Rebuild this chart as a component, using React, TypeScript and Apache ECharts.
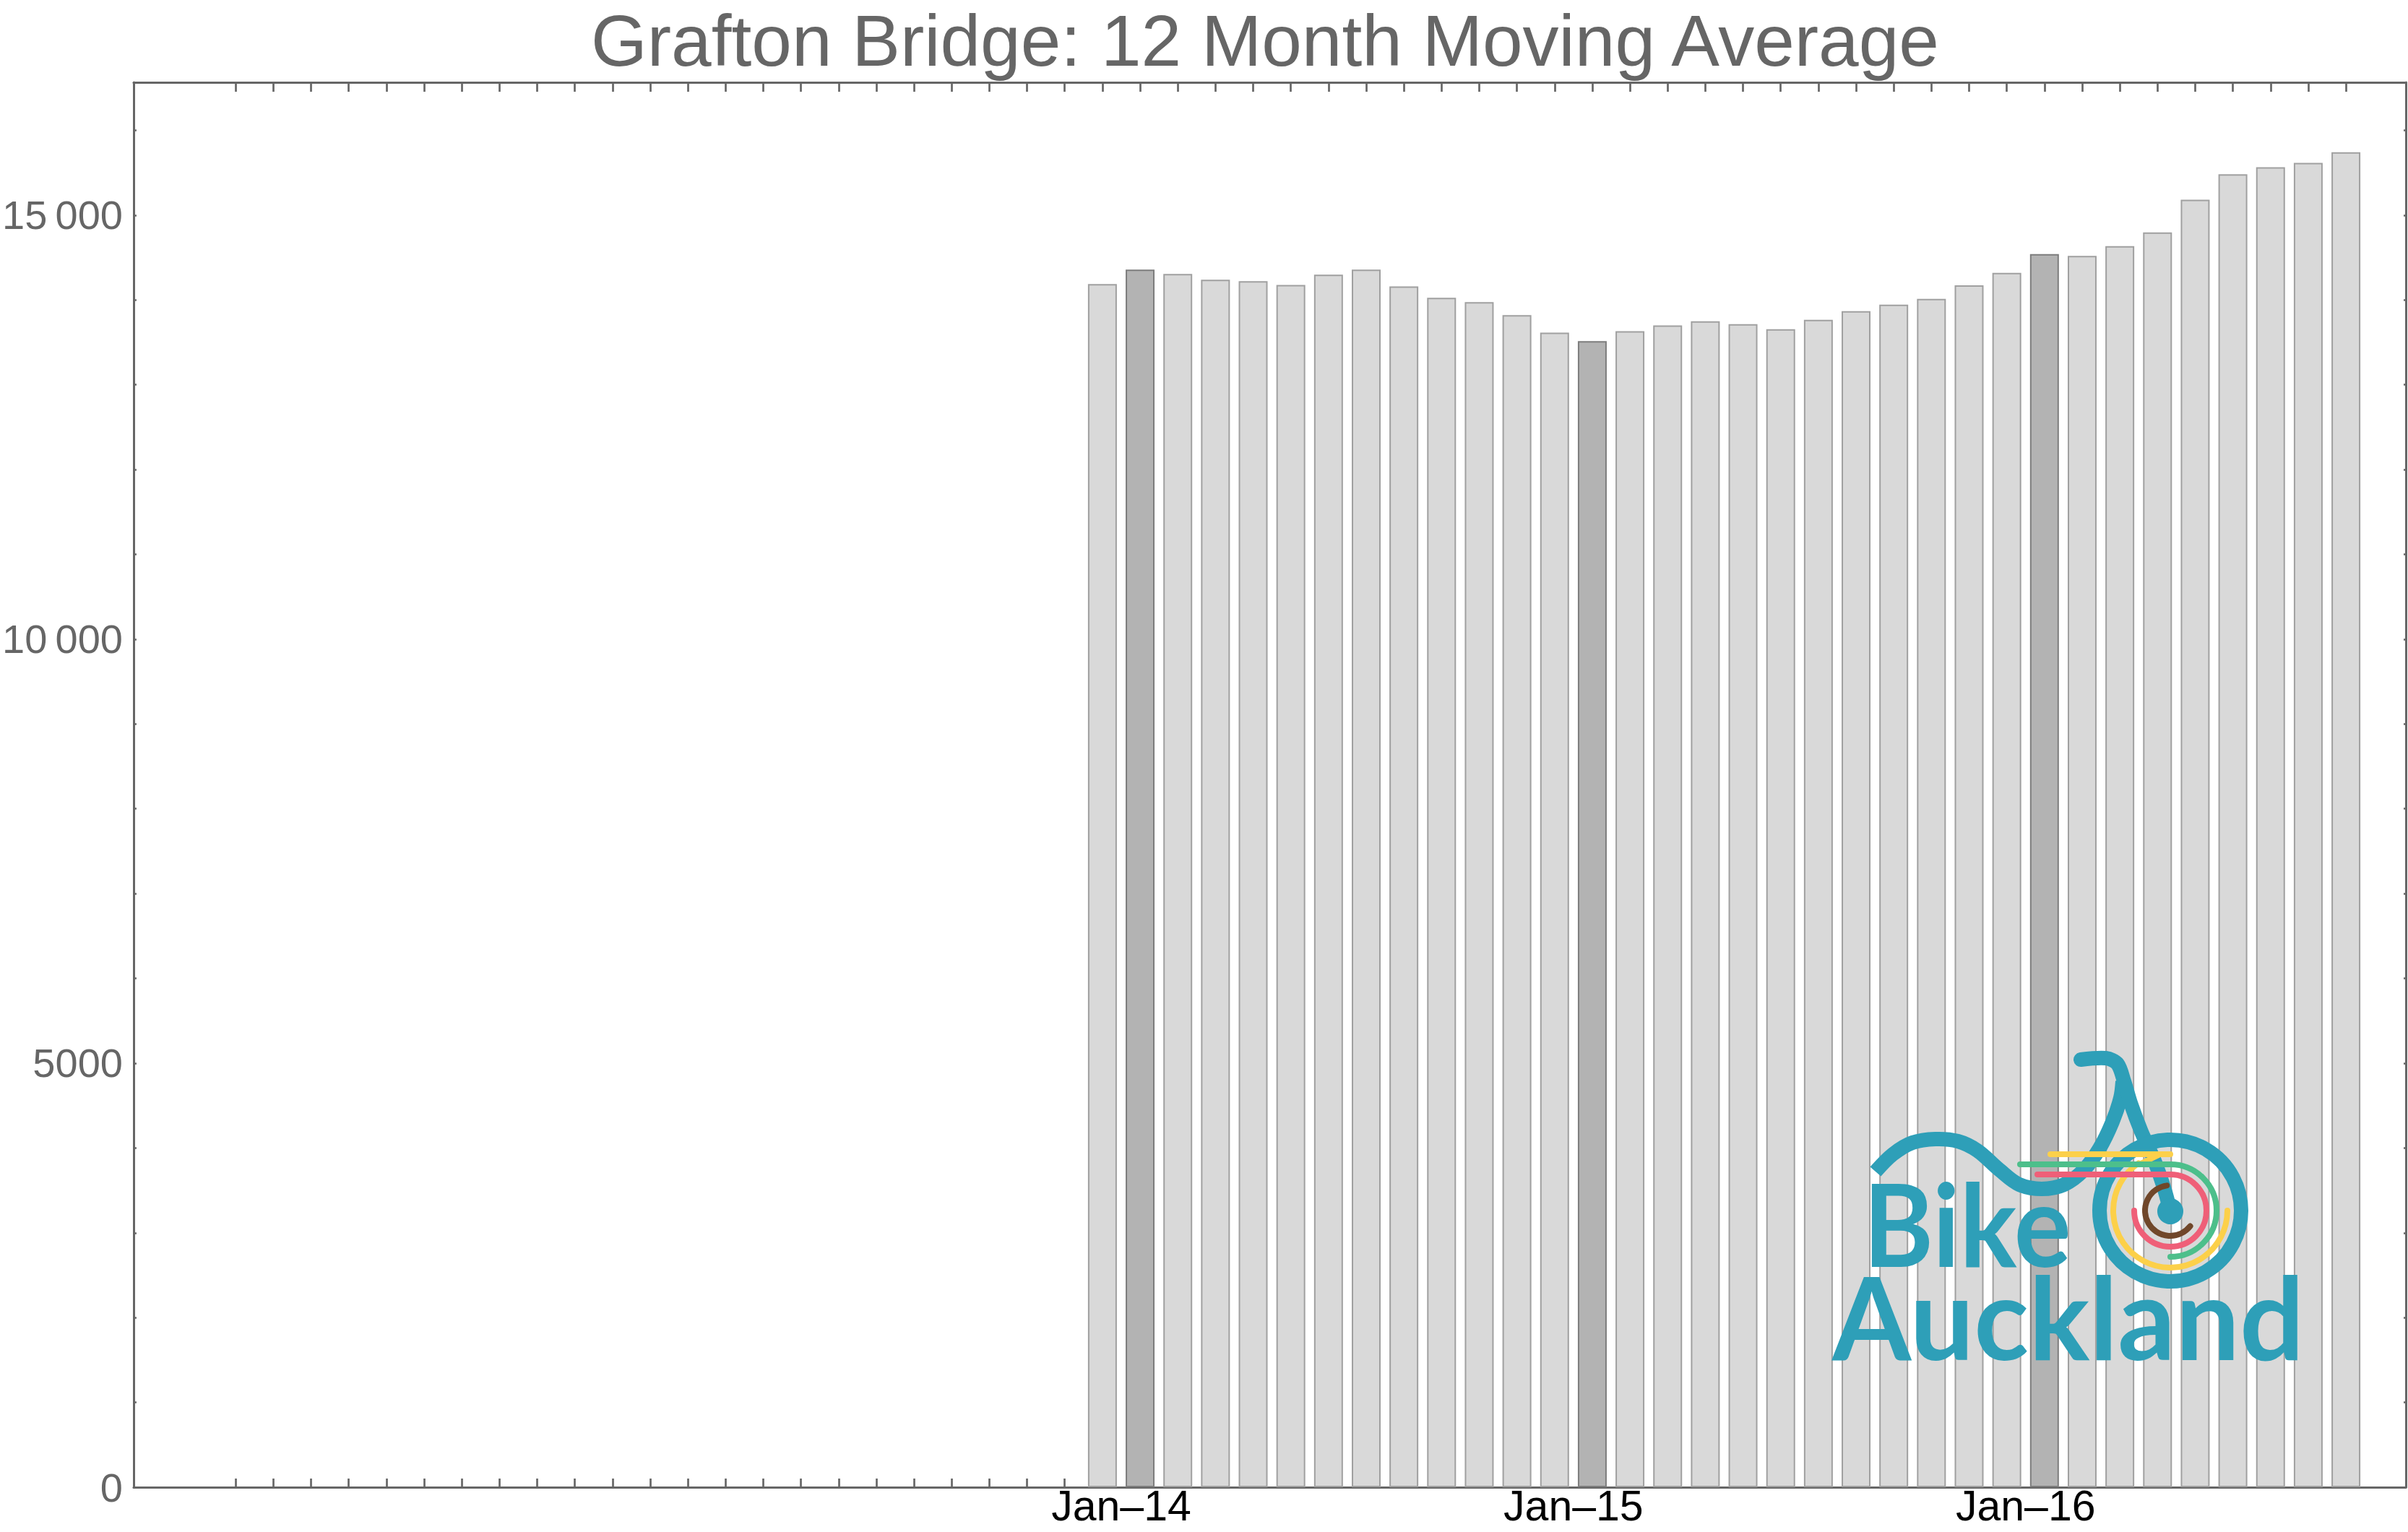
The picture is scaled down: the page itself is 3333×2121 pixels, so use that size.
import React, { useEffect, useRef } from "react";
import * as echarts from "echarts";

// ---------- data ----------
const TITLE = "Grafton Bridge: 12 Month Moving Average";

const MONTHS = [
  "Dec-13",
  "Jan-14", "Feb-14", "Mar-14", "Apr-14", "May-14", "Jun-14",
  "Jul-14", "Aug-14", "Sep-14", "Oct-14", "Nov-14", "Dec-14",
  "Jan-15", "Feb-15", "Mar-15", "Apr-15", "May-15", "Jun-15",
  "Jul-15", "Aug-15", "Sep-15", "Oct-15", "Nov-15", "Dec-15",
  "Jan-16", "Feb-16", "Mar-16", "Apr-16", "May-16", "Jun-16",
  "Jul-16", "Aug-16", "Sep-16",
];

const VALUES = [
  14186,
  14356, 14305, 14237, 14220, 14177, 14297,
  14356, 14160, 14024, 13973, 13820, 13615,
  13513, 13632, 13700, 13748, 13714, 13654,
  13765, 13867, 13944, 14012, 14171, 14319,
  14541, 14518, 14634, 14796, 15180, 15481,
  15564, 15615, 15742,
];

// x tick labels sit on the boundary before the month they name
const X_LABEL_MONTHS = ["Jan-14", "Jan-15", "Jan-16"];
const X_LABELS = ["Jan–14", "Jan–15", "Jan–16"];
// monthly ticks begin this many months before the first bar (Jan-12)
const TICK_MONTHS_BEFORE = 23;

const Y_LABEL_VALUES = [0, 5000, 10000, 15000];

// ---------- styles / layout ----------
const W = 3333;
const H = 2121;
const FRAME = "#666666";
const TEAL = "#2e9fb8";
const X_MIN = -25.71;
const X_MAX = 34.59;
const Y_MAX = 16565;

function fmtY(v: number): string {
  if (v >= 10000) {
    const s = String(v);
    return s.slice(0, s.length - 3) + "\u2009" + s.slice(s.length - 3);
  }
  return String(v);
}

function buildOption() {
  const xTicks: number[] = [];
  for (let k = -TICK_MONTHS_BEFORE; k < MONTHS.length; k++) xTicks.push(k);
  const labelPos = X_LABEL_MONTHS.map((m) => MONTHS.indexOf(m) - 0.5);

  const data = VALUES.map((v, i) => {
    const isJan = MONTHS[i].startsWith("Jan");
    return {
      value: [i, v],
      itemStyle: isJan
        ? { color: "#b3b3b3", borderColor: "#7d7d7d", borderWidth: 2 }
        : undefined,
    };
  });

  const lineStyle = { color: FRAME, width: 3 };

  const logo: any[] = [];
  const lw = 20;
  // wave / top tube
  logo.push({
    type: "polyline",
    z: 100,
    shape: {
      points: [
        [2596, 1622], [2620, 1598], [2647, 1582], [2679, 1577], [2710, 1580],
        [2737, 1593], [2768, 1620], [2795, 1640], [2826, 1646], [2857, 1640],
        [2884, 1620], [2906, 1590], [2924, 1553], [2935, 1520], [2938, 1497],
      ],
      smooth: 0.35,
    },
    style: { stroke: TEAL, lineWidth: lw, fill: null, lineCap: "butt" },
  });
  // handlebar + fork
  logo.push({
    type: "polyline",
    z: 100,
    shape: {
      points: [
        [2880, 1467], [2915, 1465], [2931, 1473], [2940, 1497], [2949, 1527],
        [2964, 1567], [2982, 1607], [2996, 1647], [3004, 1677],
      ],
      smooth: 0.3,
    },
    style: { stroke: TEAL, lineWidth: lw, fill: null, lineCap: "round" },
  });
  // wheel
  logo.push({
    type: "circle",
    z: 100,
    shape: { cx: 3004, cy: 1676, r: 98 },
    style: { stroke: TEAL, lineWidth: lw, fill: null },
  });
  // hub
  logo.push({
    type: "circle",
    z: 101,
    shape: { cx: 3004, cy: 1677, r: 18 },
    style: { fill: TEAL },
  });
  const cl = 8;
  const rad = (d: number) => (d * Math.PI) / 180;
  // yellow
  logo.push({
    type: "line", z: 102,
    shape: { x1: 2838, y1: 1598, x2: 3004, y2: 1598 },
    style: { stroke: "#fcd04a", lineWidth: cl, lineCap: "round" },
  });
  logo.push({
    type: "line", z: 102,
    shape: { x1: 2988, y1: 1599, x2: 2961, y2: 1612 },
    style: { stroke: "#fcd04a", lineWidth: cl, lineCap: "round" },
  });
  logo.push({
    type: "arc", z: 102,
    shape: { cx: 3004, cy: 1676, r: 79, startAngle: rad(0), endAngle: rad(236), clockwise: true },
    style: { stroke: "#fcd04a", lineWidth: cl, fill: null, lineCap: "round" },
  });
  // green
  logo.push({
    type: "line", z: 102,
    shape: { x1: 2796, y1: 1612, x2: 3004, y2: 1612 },
    style: { stroke: "#4dbf8b", lineWidth: cl, lineCap: "round" },
  });
  logo.push({
    type: "arc", z: 102,
    shape: { cx: 3004, cy: 1676, r: 64, startAngle: rad(-90), endAngle: rad(90), clockwise: true },
    style: { stroke: "#4dbf8b", lineWidth: cl, fill: null, lineCap: "round" },
  });
  // pink
  logo.push({
    type: "line", z: 102,
    shape: { x1: 2820, y1: 1626, x2: 3004, y2: 1626 },
    style: { stroke: "#ef5f78", lineWidth: cl, lineCap: "round" },
  });
  logo.push({
    type: "arc", z: 102,
    shape: { cx: 3004, cy: 1676, r: 50, startAngle: rad(-90), endAngle: rad(180), clockwise: true },
    style: { stroke: "#ef5f78", lineWidth: cl, fill: null, lineCap: "round" },
  });
  // brown
  logo.push({
    type: "arc", z: 102,
    shape: { cx: 3004, cy: 1676, r: 35, startAngle: rad(38), endAngle: rad(262), clockwise: true },
    style: { stroke: "#70472a", lineWidth: cl, fill: null, lineCap: "round" },
  });
  // logo words
  logo.push({
    type: "text", z: 103,
    x: 2579, y: 1754 - 0.387 * 159,
    scaleX: 0.93,
    style: {
      text: "Bike", fontSize: 159, fontWeight: "bold", fontFamily: "Lato",
      fill: TEAL, align: "left", verticalAlign: "middle",
      textAlign: "left", textVerticalAlign: "middle",
    },
  });
  logo.push({
    type: "text", z: 103,
    x: 2536, y: 1883 - 0.387 * 159,
    scaleX: 0.99,
    style: {
      text: "Auckland", fontSize: 159, fontWeight: "bold", fontFamily: "Lato",
      fill: TEAL, align: "left", verticalAlign: "middle",
      textAlign: "left", textVerticalAlign: "middle",
    },
  });

  return {
    animation: false,
    backgroundColor: "#ffffff",
    title: {
      text: TITLE,
      left: 818,
      top: 6,
      padding: 0,
      textStyle: {
        fontFamily: "Liberation Sans",
        fontSize: 100,
        fontWeight: "normal",
        color: "#666666",
        lineHeight: 100,
      },
    },
    grid: { left: 182, right: 3, top: 114, bottom: 62, containLabel: false },
    xAxis: [
      {
        type: "value",
        position: "bottom",
        min: X_MIN,
        max: X_MAX,
        axisLine: { show: true, onZero: false, lineStyle },
        axisTick: {
          show: true,
          inside: true,
          length: 12,
          customValues: xTicks,
          lineStyle: { color: FRAME, width: 2.7 },
        },
        axisLabel: {
          show: true,
          customValues: labelPos,
          formatter: (v: number) => {
            const i = labelPos.findIndex((p) => Math.abs(p - v) < 0.01);
            return i >= 0 ? X_LABELS[i] : "";
          },
          color: "#000000",
          fontFamily: "Liberation Sans",
          fontSize: 59,
          lineHeight: 50,
          margin: 1,
        },
        splitLine: { show: false },
      },
      {
        type: "value",
        position: "top",
        min: X_MIN,
        max: X_MAX,
        axisLine: { show: true, onZero: false, lineStyle },
        axisTick: {
          show: true,
          inside: true,
          length: 13,
          customValues: xTicks,
          lineStyle: { color: FRAME, width: 2.7 },
        },
        axisLabel: { show: false },
        splitLine: { show: false },
      },
    ],
    yAxis: [
      {
        type: "value",
        position: "left",
        min: 0,
        max: Y_MAX,
        interval: 1000,
        axisLine: { show: true, onZero: false, lineStyle },
        axisTick: {
          show: true,
          inside: true,
          length: 4,
          lineStyle: { color: FRAME, width: 2.5 },
        },
        axisLabel: {
          show: true,
          customValues: Y_LABEL_VALUES,
          formatter: (v: number) => fmtY(v),
          color: "#666666",
          fontFamily: "Liberation Sans",
          fontSize: 56,
          margin: 15,
        },
        splitLine: { show: false },
      },
      {
        type: "value",
        position: "right",
        min: 0,
        max: Y_MAX,
        interval: 1000,
        axisLine: { show: true, onZero: false, lineStyle },
        axisTick: {
          show: true,
          inside: true,
          length: 3,
          lineStyle: { color: FRAME, width: 2.5 },
        },
        axisLabel: { show: false },
        splitLine: { show: false },
      },
    ],
    series: [
      {
        type: "bar",
        xAxisIndex: 0,
        yAxisIndex: 0,
        barWidth: 40,
        data,
        itemStyle: { color: "#d9d9d9", borderColor: "#a0a0a0", borderWidth: 2 },
        emphasis: { disabled: true },
        z: 2,
      },
    ],
    graphic: { elements: logo },
  };
}

export default function App() {
  const ref = useRef<HTMLDivElement>(null);
  useEffect(() => {
    if (!ref.current) return;
    const chart = echarts.init(ref.current, undefined, { renderer: "svg" });
    chart.setOption(buildOption() as any);
    return () => chart.dispose();
  }, []);
  return (
    <div
      ref={ref}
      style={{ position: "fixed", left: 0, top: 0, width: W, height: H, background: "#fff" }}
    />
  );
}
